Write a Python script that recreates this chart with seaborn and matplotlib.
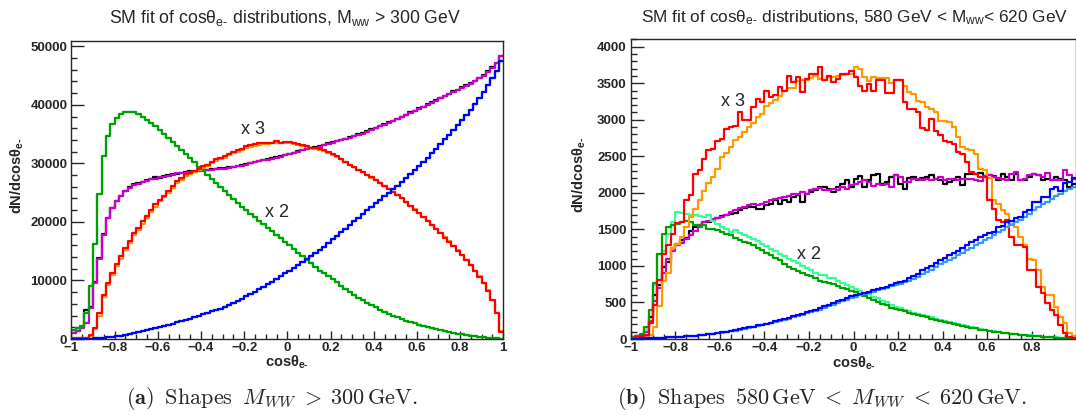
import numpy as np
import pandas as pd
import matplotlib
matplotlib.use("Agg")
import matplotlib.pyplot as plt
from matplotlib.ticker import MultipleLocator, FuncFormatter, StrMethodFormatter
import seaborn as sns

# 100 bins in cos(theta_e-) from -1 to 1
edges = np.linspace(-1, 1, 101)
centers = 0.5 * (edges[:-1] + edges[1:])

# ---- panel (a): M_ww > 300 GeV ----
left_black = [
    1100, 1400, 2100, 5000, 5400, 9800, 13800, 17900, 20700, 22400,
    23600, 24500, 25300, 25900, 26400, 26700, 26900, 27100, 27400, 27600,
    27500, 27900, 28000, 28100, 28200, 28400, 28500, 28700, 28600, 28800,
    28900, 28900, 29000, 29100, 29200, 29200, 29400, 29400, 29600, 29700,
    29900, 30100, 30300, 30400, 30600, 30800, 30900, 31100, 31200, 31400,
    31600, 31800, 32100, 32300, 32500, 32600, 32800, 33000, 33200, 33400,
    33600, 33800, 34000, 34200, 34500, 34700, 35000, 35200, 35500, 35800,
    36100, 36400, 36700, 37000, 37300, 37600, 38000, 38300, 38700, 39000,
    39400, 39700, 40100, 40400, 40800, 41200, 41500, 41900, 42300, 42600,
    43000, 43400, 43700, 44100, 44600, 45100, 45700, 46400, 47200, 48400]
left_magenta = [
    1030, 1300, 1900, 2800, 5300, 9500, 13600, 17800, 20600, 22300,
    23500, 24400, 25200, 25800, 26300, 26500, 26900, 27000, 27300, 27400,
    27600, 27700, 27900, 28000, 28300, 28300, 28400, 28500, 28600, 28700,
    28800, 28800, 28900, 29000, 29100, 29100, 29200, 29300, 29500, 29600,
    29750, 30000, 30250, 30400, 30550, 30650, 30800, 31000, 31150, 31350,
    31550, 31750, 32000, 32200, 32400, 32550, 32700, 32850, 33100, 33350,
    33550, 33750, 33950, 34150, 34350, 34600, 34850, 35100, 35400, 35700,
    36000, 36300, 36600, 36900, 37250, 37550, 37900, 38250, 38600, 38950,
    39300, 39650, 40000, 40350, 40700, 41100, 41450, 41850, 42200, 42550,
    42900, 43250, 43600, 44000, 44500, 45000, 45600, 46300, 47100, 48300]
left_orange = [
    90, 110, 140, 220, 600, 1700, 4000, 7100, 9200, 10900,
    12400, 13700, 15200, 16400, 17700, 18700, 19700, 20700, 21700, 22600,
    23500, 24200, 25000, 25800, 26600, 27200, 27800, 28100, 28500, 28800,
    29200, 29600, 30000, 30400, 30700, 31000, 31400, 31700, 32000, 32300,
    32600, 32800, 33000, 33200, 33300, 33300, 33400, 33400, 33400, 33400,
    33400, 33300, 33200, 33000, 32800, 32600, 32500, 32300, 32100, 31800,
    31500, 31100, 30700, 30300, 29800, 29400, 28900, 28500, 28000, 27500,
    27100, 26600, 26100, 25600, 25100, 24600, 24000, 23400, 22800, 22200,
    21500, 20900, 20200, 19500, 18800, 18100, 17400, 16700, 15900, 15200,
    14400, 13500, 12700, 11700, 10700, 9600, 8300, 6700, 4500, 1300]
left_red = [
    100, 120, 150, 250, 740, 1900, 4450, 7600, 9600, 11300,
    12800, 14100, 15600, 16800, 18100, 19000, 20100, 21000, 22100, 23000,
    23800, 24400, 25300, 26100, 27000, 27500, 28100, 28400, 28700, 29000,
    29500, 29800, 30200, 30700, 31000, 31200, 31600, 32000, 32300, 32500,
    32900, 33100, 33300, 33400, 33400, 33500, 33500, 33800, 33500, 33600,
    33600, 33500, 33300, 33100, 32900, 32700, 32600, 32500, 32200, 32000,
    31600, 31200, 30800, 30300, 29800, 29400, 28900, 28500, 28000, 27600,
    27100, 26600, 26100, 25600, 25100, 24600, 24000, 23400, 22800, 22100,
    21500, 20800, 20100, 19400, 18800, 18100, 17300, 16600, 15900, 15100,
    14300, 13500, 12600, 11600, 10600, 9500, 8200, 6600, 4400, 1200]
left_green = [
    1500, 1800, 2200, 4500, 9100, 16200, 24700, 31200, 34700, 36700,
    37800, 38400, 38700, 38800, 38700, 38400, 37900, 37400, 36900, 36300,
    35700, 35100, 34400, 33700, 33000, 32300, 31600, 30900, 30200, 29400,
    28700, 28000, 27300, 26600, 25900, 25200, 24600, 23900, 23300, 22600,
    22000, 21400, 20800, 20200, 19600, 19000, 18400, 17800, 17200, 16600,
    16000, 15400, 14700, 14100, 13500, 12900, 12300, 11700, 11200, 10700,
    10200, 9700, 9100, 8600, 8000, 7500, 7000, 6600, 6150, 5750,
    5400, 5000, 4650, 4300, 4000, 3700, 3400, 3150, 2900, 2650,
    2450, 2250, 2050, 1850, 1650, 1500, 1350, 1200, 1060, 940,
    820, 710, 600, 500, 410, 320, 240, 170, 100, 40]
left_blue = [
    20, 30, 40, 50, 60, 90, 130, 170, 260, 350,
    450, 580, 710, 850, 1010, 1180, 1350, 1520, 1700, 1880,
    2070, 2260, 2450, 2640, 2830, 3020, 3250, 3470, 3700, 3950,
    4200, 4450, 4700, 4950, 5190, 5500, 5830, 6160, 6520, 6900,
    7290, 7680, 8080, 8500, 8920, 9350, 9780, 10250, 10720, 11200,
    11690, 12150, 12620, 13100, 13620, 14150, 14680, 15190, 15800, 16400,
    17000, 17600, 18200, 18800, 19500, 20100, 20700, 21400, 22000, 22600,
    23200, 23800, 24400, 25000, 25600, 26200, 26800, 27500, 28200, 28900,
    29600, 30300, 31000, 31700, 32500, 33300, 34100, 34900, 35700, 36500,
    37400, 38300, 39200, 40200, 41200, 42200, 43300, 44500, 45800, 47500]

# ---- panel (b): 580 GeV < M_ww < 620 GeV ----
right_black = [
    30, 40, 60, 130, 300, 600, 740, 990, 1060, 1250,
    1300, 1350, 1380, 1480, 1530, 1560, 1600, 1600, 1620, 1660,
    1680, 1700, 1710, 1730, 1760, 1790, 1810, 1806, 1784, 1784,
    1830, 1852, 1897, 1852, 1897, 1875, 1943, 1966, 1875, 1988,
    2011, 2034, 2079, 2079, 2057, 2011, 2079, 2125, 2170, 2079,
    2193, 2225, 2079, 2170, 2239, 2261, 2125, 2148, 2216, 2239,
    2125, 2057, 2207, 2216, 2170, 2207, 2216, 2239, 2193, 2170,
    2125, 2148, 2170, 2216, 2102, 2261, 2261, 2261, 2270, 2225,
    2239, 2225, 2170, 2261, 2216, 2170, 2261, 2170, 2180, 2216,
    2261, 2239, 2170, 2193, 2170, 2216, 2193, 2170, 2079, 2125]
right_magenta = [
    20, 40, 60, 100, 250, 520, 700, 900, 1100, 1200,
    1280, 1320, 1370, 1420, 1480, 1560, 1600, 1620, 1640, 1650,
    1670, 1700, 1740, 1770, 1790, 1800, 1830, 1852, 1830, 1852,
    1870, 1897, 1920, 1930, 1943, 1952, 1988, 1980, 2011, 1988,
    2034, 2057, 2066, 2040, 2034, 2057, 2034, 2079, 2057, 2102,
    2125, 2148, 2170, 2148, 2100, 2125, 2102, 2125, 2079, 2239,
    2216, 2148, 2148, 2193, 2193, 2170, 2193, 2170, 2193, 2216,
    2170, 2193, 2193, 2170, 2193, 2193, 2193, 2170, 2160, 2230,
    2239, 2216, 2207, 2193, 2170, 2261, 2284, 2170, 2193, 2250,
    2261, 2239, 2216, 2270, 2180, 2180, 2180, 2307, 2239, 2193]
right_orange = [
    10, 15, 25, 30, 60, 170, 450, 800, 900, 1240,
    1300, 1400, 1530, 1670, 1780, 1900, 2030, 2130, 2220, 2330,
    2490, 2540, 2630, 2720, 2760, 2830, 2900, 2950, 3035, 3080,
    3190, 3230, 3270, 3330, 3400, 3435, 3440, 3525, 3545, 3545,
    3570, 3600, 3560, 3545, 3580, 3590, 3600, 3610, 3626, 3626,
    3717, 3695, 3581, 3535, 3590, 3567, 3567, 3567, 3499, 3545,
    3545, 3467, 3376, 3353, 3262, 3240, 3171, 3149, 3103, 2989,
    2989, 2967, 2898, 2762, 2625, 2603, 2580, 2534, 2330, 2307,
    2200, 1900, 1850, 1760, 1715, 1580, 1530, 1400, 1280, 1100,
    1080, 940, 714, 600, 600, 440, 305, 214, 77, 40]
right_red = [
    20, 30, 40, 55, 223, 464, 805, 1170, 1283, 1442,
    1588, 1600, 1897, 1966, 2261, 2307, 2466, 2580, 2600, 2716,
    2740, 2875, 2907, 2921, 3103, 2990, 2990, 3171, 3285, 3240,
    3399, 3310, 3340, 3450, 3400, 3604, 3510, 3590, 3376, 3560,
    3626, 3626, 3717, 3545, 3604, 3510, 3560, 3626, 3626, 3672,
    3581, 3467, 3399, 3490, 3400, 3545, 3545, 3362, 3362, 3545,
    3545, 3240, 3149, 3149, 3103, 2889, 2860, 3012, 2853, 2785,
    2716, 2694, 2670, 2557, 2535, 2420, 2284, 2261, 2216, 2216,
    1897, 1784, 1624, 1602, 1624, 1397, 1283, 1283, 1260, 942,
    942, 714, 623, 487, 396, 328, 191, 77, 32, 20]
right_lightgreen = [
    30, 40, 60, 120, 400, 740, 1170, 1200, 1440, 1600,
    1738, 1730, 1715, 1700, 1700, 1680, 1670, 1693, 1620, 1580,
    1533, 1511, 1470, 1490, 1450, 1420, 1400, 1370, 1340, 1300,
    1270, 1230, 1200, 1160, 1130, 1100, 1070, 1040, 1000, 970,
    940, 900, 880, 870, 830, 840, 790, 760, 740, 710,
    690, 660, 630, 610, 580, 555, 520, 500, 470, 440,
    420, 400, 380, 360, 345, 330, 310, 295, 280, 265,
    250, 235, 220, 205, 190, 178, 165, 150, 138, 125,
    115, 105, 96, 88, 80, 73, 67, 61, 55, 49,
    43, 38, 33, 29, 25, 21, 17, 14, 11, 9]
right_green = [
    30, 40, 70, 170, 400, 760, 1170, 1440, 1530, 1560,
    1580, 1600, 1620, 1600, 1556, 1530, 1556, 1511, 1500, 1488,
    1465, 1440, 1420, 1380, 1351, 1329, 1310, 1280, 1250, 1220,
    1180, 1150, 1110, 1080, 1030, 990, 960, 930, 910, 880,
    860, 830, 800, 780, 760, 750, 730, 700, 680, 660,
    640, 610, 590, 560, 540, 510, 480, 460, 430, 410,
    395, 380, 360, 345, 325, 310, 295, 275, 260, 245,
    235, 220, 205, 195, 180, 170, 155, 145, 130, 120,
    110, 100, 92, 85, 78, 72, 66, 60, 55, 48,
    42, 37, 32, 28, 24, 20, 16, 13, 10, 8]
right_lightblue = [
    4, 5, 7, 9, 11, 13, 15, 18, 21, 25,
    29, 33, 37, 42, 47, 52, 58, 65, 72, 80,
    88, 96, 105, 115, 126, 138, 150, 162, 176, 190,
    202, 216, 230, 246, 262, 278, 296, 314, 330, 350,
    365, 380, 398, 420, 445, 465, 490, 515, 535, 560,
    580, 600, 615, 635, 650, 665, 685, 700, 720, 740,
    755, 775, 800, 825, 855, 890, 920, 950, 985, 1020,
    1050, 1080, 1110, 1150, 1180, 1215, 1250, 1280, 1320, 1351,
    1380, 1420, 1460, 1490, 1530, 1560, 1600, 1630, 1670, 1710,
    1760, 1800, 1850, 1880, 1920, 1960, 1990, 2020, 2050, 2080]
right_blue = [
    5, 6, 8, 10, 12, 14, 16, 19, 22, 26,
    30, 34, 38, 43, 48, 54, 60, 67, 75, 83,
    92, 100, 110, 120, 132, 145, 158, 170, 185, 198,
    210, 225, 240, 258, 275, 290, 310, 330, 345, 370,
    385, 400, 420, 445, 470, 490, 515, 540, 560, 585,
    600, 620, 630, 650, 665, 680, 700, 715, 740, 760,
    780, 800, 830, 860, 890, 940, 970, 1000, 1040, 1080,
    1110, 1150, 1180, 1210, 1240, 1280, 1330, 1360, 1390, 1420,
    1450, 1470, 1530, 1540, 1600, 1620, 1650, 1670, 1740, 1760,
    1870, 1880, 1940, 1950, 2050, 2080, 2030, 2140, 2150, 2210]

BLACK, MAGENTA = "#000000", "#cc00cc"
ORANGE, RED = "#ff9900", "#ff0000"
LGREEN, GREEN = "#33ff99", "#00a000"
LBLUE, BLUE = "#3399ff", "#0000ff"

sns.set_style("ticks")
plt.rcParams["font.family"] = ["Liberation Sans", "DejaVu Sans"]
plt.rcParams["mathtext.fontset"] = "custom"
plt.rcParams["mathtext.rm"] = "Liberation Sans"
plt.rcParams["mathtext.it"] = "Liberation Sans:italic"
plt.rcParams["mathtext.bf"] = "Liberation Sans:bold"


def draw_hist(ax, values, color, lw=1.6):
    df = pd.DataFrame({"cos": centers, "n": values})
    sns.histplot(data=df, x="cos", weights="n", bins=edges.tolist(), element="step",
                 fill=False, color=color, linewidth=lw, ax=ax)


def fmt_x(v, _):
    return ("%g" % (round(v, 2) + 0.0)).replace("-", "\u2212")


def style_axes(ax, ymax, ymajor, yminor, xmax_label):
    ax.set_xlim(-1, 1)
    ax.set_ylim(0, ymax)
    ax.set_xlabel("")
    ax.set_ylabel("")
    ax.set_xticks(np.arange(-1, xmax_label + 0.001, 0.2))
    ax.xaxis.set_minor_locator(MultipleLocator(0.05))
    ax.xaxis.set_major_formatter(FuncFormatter(fmt_x))
    ax.yaxis.set_major_locator(MultipleLocator(ymajor))
    ax.yaxis.set_minor_locator(MultipleLocator(yminor))
    ax.yaxis.set_major_formatter(StrMethodFormatter("{x:.0f}"))
    ax.tick_params(axis="y", which="major", direction="in", length=9, width=1, pad=3)
    ax.tick_params(axis="y", which="minor", direction="in", length=4.5, width=1)
    ax.tick_params(axis="x", which="major", direction="in", length=6, width=1, pad=2.5)
    ax.tick_params(axis="x", which="minor", direction="in", length=3.5, width=1)
    for lab in ax.get_xticklabels() + ax.get_yticklabels():
        lab.set_fontweight("bold")
        lab.set_fontsize(9.5)
    for sp in ax.spines.values():
        sp.set_visible(True)
        sp.set_linewidth(1.0)
    ax.text(0.5, -0.094, "cos\u03b8$_{\\mathbf{e\u2010}}$", transform=ax.transAxes,
            ha="center", va="baseline", fontsize=10.5, fontweight="bold")


fig = plt.figure(figsize=(10.76, 4.15), dpi=100)
ax1 = fig.add_axes([0.0664, 0.1831, 0.4013, 0.7181])
ax2 = fig.add_axes([0.5862, 0.1831, 0.4141, 0.7229])

for vals, col in [(left_black, BLACK), (left_magenta, MAGENTA),
                  (left_green, LGREEN), (left_green, GREEN),
                  (left_orange, ORANGE), (left_red, RED),
                  (left_blue, LBLUE), (left_blue, BLUE)]:
    draw_hist(ax1, vals, col)

for vals, col in [(right_black, BLACK), (right_magenta, MAGENTA),
                  (right_lightgreen, LGREEN), (right_green, GREEN),
                  (right_orange, ORANGE), (right_red, RED),
                  (right_lightblue, LBLUE), (right_blue, BLUE)]:
    draw_hist(ax2, vals, col)

style_axes(ax1, 50900, 10000, 2000, 1.0)
style_axes(ax2, 4105, 500, 100, 0.8)

ylab = "dN/dcos\u03b8$_{\\mathbf{e\u2010}}$"
ax1.text(-0.125, 0.547, ylab, rotation=90, transform=ax1.transAxes,
         ha="center", va="center", fontsize=10.5, fontweight="bold")
ax2.text(-0.116, 0.547, ylab, rotation=90, transform=ax2.transAxes,
         ha="center", va="center", fontsize=10.5, fontweight="bold")

ax1.text(-0.159, 35800, "x 3", fontsize=13, ha="center", va="center")
ax1.text(-0.048, 21670, "x 2", fontsize=13, ha="center", va="center")
ax2.text(-0.541, 3249, "x 3", fontsize=13, ha="center", va="center")
ax2.text(-0.202, 1160, "x 2", fontsize=13, ha="center", va="center")

fig.text(0.265, 0.957,
         "SM fit of cos\u03b8$_{\\mathrm{e\u2010}}$ distributions, M$_{\\mathrm{ww}}$ > 300 GeV",
         ha="center", va="center", fontsize=12.7)
fig.text(0.794, 0.957,
         "SM fit of cos\u03b8$_{\\mathrm{e\u2010}}$ distributions, 580 GeV < M$_{\\mathrm{ww}}$< 620 GeV",
         ha="center", va="center", fontsize=12.4)

fig.text(0.253, 0.026,
         r"$\mathbf{(a)}\;\;\mathrm{Shapes}\;\;M_{WW}\;>\;300\,\mathrm{GeV.}$",
         math_fontfamily="cm", fontsize=16, ha="center", va="baseline")
fig.text(0.764, 0.026,
         r"$\mathbf{(b)}\;\;\mathrm{Shapes}\;\;580\,\mathrm{GeV}\;<\;M_{WW}\;<\;620\,\mathrm{GeV.}$",
         math_fontfamily="cm", fontsize=16, ha="center", va="baseline")

fig.savefig("out.png", dpi=100)
